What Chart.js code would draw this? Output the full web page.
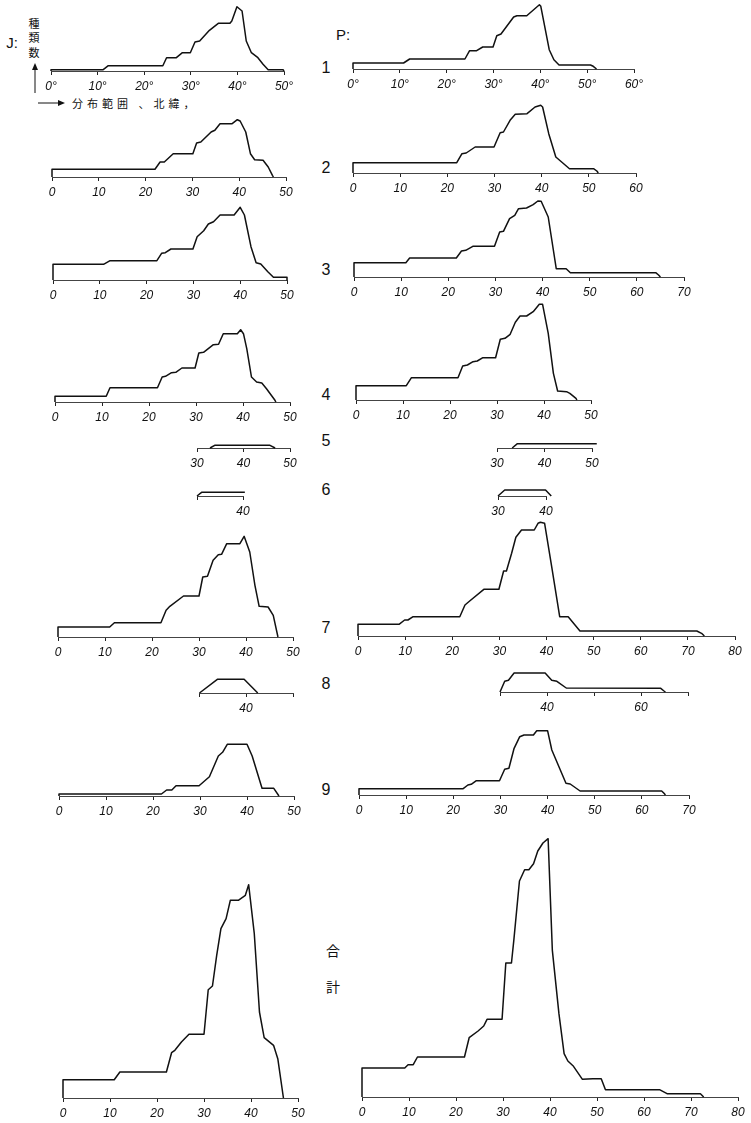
<!DOCTYPE html>
<html><head><meta charset="utf-8">
<script src="https://cdn.jsdelivr.net/npm/chart.js@4.4.0/dist/chart.umd.min.js"></script>
<style>
html,body{margin:0;padding:0;background:#fff;}
body{width:751px;height:1123px;position:relative;overflow:hidden;font-family:'Liberation Sans',Arial,sans-serif;color:#111;}
canvas{position:absolute;}
.lbl{position:absolute;line-height:1;white-space:nowrap;transform:translate(-50%,-50%);}
.lft{position:absolute;line-height:1;white-space:nowrap;transform:translate(0,-50%);}
.cjk{font-family:'Noto Sans CJK JP','Noto Sans CJK SC',sans-serif;color:#111;}
</style></head><body>
<div class="lbl" style="left:12px;top:42px;font-size:15px;">J:</div>
<div class="lbl cjk" style="left:34px;top:23px;font-size:11px;">種</div>
<div class="lbl cjk" style="left:34px;top:37px;font-size:11px;">類</div>
<div class="lbl cjk" style="left:34px;top:52px;font-size:11px;">数</div>
<svg style="position:absolute;left:0;top:0" width="120" height="120">
  <line x1="35" y1="93" x2="35" y2="66" stroke="#111" stroke-width="1"/>
  <path d="M32,70 L35,63 L38,70 Z" fill="#111"/>
  <line x1="38" y1="103" x2="60" y2="103" stroke="#111" stroke-width="1"/>
  <path d="M58,100 L65,103 L58,106 Z" fill="#111"/>
</svg>
<div class="lft cjk" style="left:72px;top:103px;font-size:11px;letter-spacing:4px;">分布範囲 、北緯，</div>
<div class="lbl" style="left:343px;top:34px;font-size:15px;">P:</div>
<div class="lbl" style="left:326px;top:68px;font-size:16px;">1</div>
<div class="lbl" style="left:326px;top:168px;font-size:16px;">2</div>
<div class="lbl" style="left:326px;top:270px;font-size:16px;">3</div>
<div class="lbl" style="left:326px;top:395px;font-size:16px;">4</div>
<div class="lbl" style="left:326px;top:441px;font-size:16px;">5</div>
<div class="lbl" style="left:326px;top:490px;font-size:16px;">6</div>
<div class="lbl" style="left:326px;top:628px;font-size:16px;">7</div>
<div class="lbl" style="left:326px;top:684px;font-size:16px;">8</div>
<div class="lbl" style="left:326px;top:790px;font-size:16px;">9</div>
<div class="lbl cjk" style="left:333px;top:950px;font-size:14px;">合</div>
<div class="lbl cjk" style="left:333px;top:986px;font-size:14px;">計</div>
<script>
// ---- tick labels ----
const ticksDeg50 = ['0°','10°','20°','30°','40°','50°'];
const ticksDeg60 = ['0°','10°','20°','30°','40°','50°','60°'];
const ticks50 = ['0','10','20','30','40','50'];
const ticks60 = ['0','10','20','30','40','50','60'];
const ticks70 = ['0','10','20','30','40','50','60','70'];
const ticks80 = ['0','10','20','30','40','50','60','70','80'];
const ticks30to50 = ['30','40','50'];
const ticksJ6 = ['','40'];
const ticksP6 = ['30','40'];
const ticksJ8 = ['','40',''];
const ticksP8 = ['','40','','60',''];

// ---- series: latitude (deg N) and number of species ----
const j1Lat = [0,0,11.2,12.3,24,24.8,26.9,28.2,29.9,30.9,31.9,34,35.9,38.4,38.8,39.9,41,41.9,43,44.4,45.5,46.6,49.8,50];
const j1Cnt = [0,1.3,1.3,5.3,5.3,13.3,13.3,18.3,18.3,29,30,40.7,47.7,47.7,50,64.3,60,30,18.3,13.3,6.7,1.3,1.3,0];
const p1Lat = [0,0,10.8,12.1,23.9,24.9,26.4,27.7,29.9,30.7,31.6,34.3,35,37.1,39.8,40.1,41.9,42.9,44,50.7,51.3,52];
const p1Cnt = [0,6,6,10,10,18.3,18.3,22,22,33.3,35,52,53.3,53.3,64.3,62.7,19.3,9.3,4,4,2.7,0];

const j2Lat = [0,0,22,23.1,24,25.9,30.1,30.9,31.8,34,34.8,35.9,38.5,39.6,40.2,41.4,42.4,43.3,45.1,46.2,47.1,47.3];
const j2Cnt = [0,7.7,7.7,15,15,23.3,23.3,34,35,45,46.7,53.3,53.3,57.3,56,45,23.3,17.3,16.7,10,1.7,0];
const p2Lat = [0,0,22,23.1,24,25.9,29.9,31.2,31.9,33.3,34.4,36.9,38.6,39.8,40.2,41.5,43,45.9,51,51.7,52];
const p2Cnt = [0,10.3,10.3,19.3,20,26,26,40.3,41,52.7,58.7,59.3,66,67.7,66,39.3,16,4.3,4.3,2,0];

const j3Lat = [0,0,10.8,12.2,22.2,23.2,24,25.2,29.9,30.8,32.2,33.2,34.3,35.7,38.7,40,40.9,42.3,43.4,44.4,45.9,47.1,50,50];
const j3Cnt = [0,15.7,15.7,19.3,19.3,26.7,27.3,31,31,43.3,49.3,56,58.3,65,65,72.7,65,33.3,17.3,16,8.3,2.7,2.7,0];
const p3Lat = [0,0,11,11.8,21.7,22.8,23.7,25.2,29.8,30.9,31.7,33,34.1,34.9,36.6,38,39,39.7,41.2,42.9,45,45.9,64,64.6,65];
const p3Cnt = [0,14.3,14.3,19,19,26,26.7,30.7,30.7,45,45.7,58.3,61.7,68.3,69,72.3,76,75.7,60,8.3,8.3,4.3,4.3,2,0];

const j4Lat = [0,0,10.9,11.7,21.8,22.8,23.5,24.8,25.7,27,29.8,30.6,31.6,33.7,34.8,35.8,38.8,39.5,40.1,40.8,41.8,42.9,44,45,46.8,47];
const j4Cnt = [0,5.7,5.7,14.3,14.3,25,25.7,29.3,29.7,34,34,49,49.7,57.3,57.7,68.3,68.3,72.3,68.3,53.3,25,20,19,13.3,1.7,0];
const p4Lat = [0,0,10.7,11.8,21.7,22.7,23.7,24.9,25.8,27,29.7,30.7,31.7,32.8,33.9,34.9,36.3,37.7,39,39.7,40.9,42,42.9,44.8,45.5,46.8,47];
const p4Cnt = [0,14.3,14.3,22.3,22.3,34,35,38.3,39,42.3,42.3,60.7,61.7,65.7,77.7,84,84,88.3,95.7,95.7,66.7,26.7,9,8.3,6.7,1.7,0];

const j5Lat = [32.8,33.8,45.7,46.8];
const j5Cnt = [0,2.7,2.7,0];
const p5Lat = [33.2,34.3,51,52.3];
const p5Cnt = [0,4.3,4.3,0];

const j6Lat = [30,31,40.4,41.4];
const j6Cnt = [0,3.7,3.7,0];
const p6Lat = [30,31.4,39.9,41.1];
const p6Cnt = [0,6,6,0];

const j7Lat = [0,0,11,12,21.9,23,23.8,26.7,30,30.8,31.8,33,34.1,34.8,35.9,38.7,39.6,40.8,41.9,42.8,44.7,45.8,46.8];
const j7Cnt = [0,10,10,14.3,14.3,26.7,30.7,41,41,60,60.7,76.7,82.3,82.7,93.3,93.3,100.7,85,51.7,30.7,30,21.7,0];
const p7Lat = [0,0,8.7,9.9,10.6,11.7,21.6,22.7,23.7,26.7,29.9,30.9,31.5,32.6,33.5,34.7,37.4,38.2,38.7,39.6,41.1,42.8,44.6,47.1,71.9,72.9,73.5];
const p7Cnt = [0,11.7,11.7,16,16,19.3,19.3,31,35,46.7,46.7,65,65,82.7,98.7,106,106,112.7,113.7,112.7,69.3,19.3,19.3,5,5,2.7,0];

const j8Lat = [30.1,33.9,39.6,42.5];
const j8Cnt = [0,13.7,13.7,0];
const p8Lat = [30,31,31.8,33,39.6,41,42.1,44.1,64.2,64.9,65.2];
const p8Cnt = [0,10.7,11.7,19,19,11.7,10.7,4,3.7,1,0];

const j9Lat = [0,0,21.8,22.9,24,24.9,29.8,32,33.9,34.8,35.8,40,41.1,43.2,45.7,46.8];
const j9Cnt = [0,2,2,6,6,10.3,10.3,19.3,40,43.7,51.7,51.7,40,7.7,7.7,0];
const p9Lat = [0,0,22.1,23.1,23.8,24.9,29.8,30.9,31.8,32.9,34.1,35,37,37.7,40,40.9,43.9,44.8,46.9,64.2,64.7,65];
const p9Cnt = [0,6.3,6.3,10,10.7,14.3,14.3,25.7,26.7,46.7,58.3,60,60,64.3,64.3,45,11.7,11,4,4,1.7,0];

const jtLat = [0,0,10.9,12.1,22,23.1,23.8,25.2,26.8,30,30.9,31.8,32.7,33.6,34.7,35.6,37.3,38.8,39.5,40.7,41.8,42.8,44.8,45.7,46.9];
const jtCnt = [0,18.3,18.3,26,26,45.3,47.7,56,63.7,63.7,108.3,112,142.7,169.3,179.3,197.7,197.7,202.7,213.3,164.3,86,60.3,52.7,39.3,0];
const ptLat = [0,0,9.1,9.8,10.9,11.8,21.8,22.8,24.7,25.9,26.6,29.8,30.6,31.8,32.3,33.5,34.6,35.5,36.5,37.4,38.5,39.6,40.5,41.9,43,43.8,45,46.9,49.1,50.9,51.8,63.3,64.9,72,72.7];
const ptCnt = [0,29,29,32.3,32.3,40,40,59.3,66,71,77.7,77.7,134,134,156.7,216,227.3,227.3,233.3,246,254,258.3,146.7,83.3,43.3,36,30.7,17.7,18.3,18.3,7.3,7.3,3.3,3.3,0];

// ---- layout of panels (pixel position of axis start/end and baseline) ----
const panels = [
  {lat:j1Lat,cnt:j1Cnt,min:0,max:50,labels:ticksDeg50,x0:51,x1:284.3,base:71.3},
  {lat:p1Lat,cnt:p1Cnt,min:0,max:60,labels:ticksDeg60,x0:352.7,x1:634,base:69.3},
  {lat:j2Lat,cnt:j2Cnt,min:0,max:50,labels:ticks50,x0:51.7,x1:286,base:176.7},
  {lat:p2Lat,cnt:p2Cnt,min:0,max:60,labels:ticks60,x0:352.7,x1:636,base:172.7},
  {lat:j3Lat,cnt:j3Cnt,min:0,max:50,labels:ticks50,x0:52.7,x1:287.3,base:280},
  {lat:p3Lat,cnt:p3Cnt,min:0,max:70,labels:ticks70,x0:354.3,x1:684.3,base:276.7},
  {lat:j4Lat,cnt:j4Cnt,min:0,max:50,labels:ticks50,x0:55,x1:290,base:401.7},
  {lat:p4Lat,cnt:p4Cnt,min:0,max:50,labels:ticks50,x0:355.7,x1:591,base:400},
  {lat:j5Lat,cnt:j5Cnt,min:30,max:50,labels:ticks30to50,x0:196.7,x1:290,base:448.3},
  {lat:p5Lat,cnt:p5Cnt,min:30,max:50,labels:ticks30to50,x0:497.3,x1:592.3,base:447.7},
  {lat:j6Lat,cnt:j6Cnt,min:30,max:40,labels:ticksJ6,x0:196.7,x1:243.3,base:496},
  {lat:p6Lat,cnt:p6Cnt,min:30,max:40,labels:ticksP6,x0:498.3,x1:545.7,base:495.7},
  {lat:j7Lat,cnt:j7Cnt,min:0,max:50,labels:ticks50,x0:57.7,x1:293.3,base:636.7},
  {lat:p7Lat,cnt:p7Cnt,min:0,max:80,labels:ticks80,x0:358.3,x1:735,base:636},
  {lat:j8Lat,cnt:j8Cnt,min:30,max:50,labels:ticksJ8,x0:199.3,x1:293.3,base:692.7},
  {lat:p8Lat,cnt:p8Cnt,min:30,max:70,labels:ticksP8,x0:500,x1:688.3,base:691.7},
  {lat:j9Lat,cnt:j9Cnt,min:0,max:50,labels:ticks50,x0:59,x1:294.3,base:796},
  {lat:p9Lat,cnt:p9Cnt,min:0,max:70,labels:ticks70,x0:359.3,x1:689.3,base:795},
  {lat:jtLat,cnt:jtCnt,min:0,max:50,labels:ticks50,x0:63.3,x1:297.7,base:1097.7},
  {lat:ptLat,cnt:ptCnt,min:0,max:80,labels:ticks80,x0:362.3,x1:738.3,base:1096.7}
];

const PADL = 22, PADR = 24, AXH = 25;
panels.forEach(p => {
  const maxC = Math.max(...p.cnt);
  const top = Math.round(p.base - maxC - 8);
  const areaH = Math.round(p.base) - top;
  const left = Math.round(p.x0) - PADL;
  const areaW = Math.round(p.x1) - Math.round(p.x0);
  const cv = document.createElement('canvas');
  cv.width = PADL + areaW + PADR;
  cv.height = areaH + AXH;
  cv.style.left = left + 'px';
  cv.style.top = top + 'px';
  document.body.appendChild(cv);
  new Chart(cv, {
    type: 'line',
    data: { datasets: [{
      data: p.lat.map((x, i) => ({ x: x, y: p.cnt[i] })),
      borderColor: '#111', borderWidth: 1.5, pointRadius: 0, tension: 0,
      fill: false, clip: false, borderJoinStyle: 'round'
    }]},
    options: {
      responsive: false, animation: false, events: [],
      layout: { padding: { left: PADL, right: PADR, top: 0, bottom: 0 } },
      plugins: { legend: { display: false }, tooltip: { enabled: false } },
      scales: {
        x: {
          type: 'linear', min: p.min, max: p.max,
          afterFit: s => { s.height = AXH; },
          ticks: {
            stepSize: 10, autoSkip: false, maxRotation: 0, padding: 4, color: '#111',
            font: { size: 12, style: 'italic', family: "'Liberation Sans', Arial, sans-serif" },
            callback: v => { const k = Math.round((v - p.min) / 10); return p.labels[k] !== undefined ? p.labels[k] : ''; }
          },
          grid: { display: true, drawOnChartArea: false, drawTicks: true, tickLength: 4, color: '#222', lineWidth: 1 },
          border: { display: true, color: '#444', width: 1 }
        },
        y: { display: false, min: 0, max: areaH }
      }
    }
  });
});
</script>
</body></html>
